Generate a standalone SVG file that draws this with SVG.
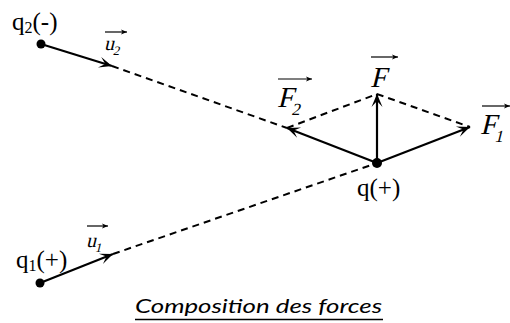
<svg xmlns="http://www.w3.org/2000/svg" width="510" height="323" viewBox="0 0 510 323">
  <defs>
    <marker id="head" viewBox="-14 -7 15 14" refX="0" refY="0" markerWidth="15" markerHeight="14" markerUnits="userSpaceOnUse" orient="auto">
      <path d="M0,0 L-13,-5.5 L-7,0 L-13,5.5 Z" fill="#000"/>
    </marker>
    <marker id="vhead" viewBox="-7 -3 8 6" refX="0" refY="0" markerWidth="8" markerHeight="6" markerUnits="userSpaceOnUse" orient="auto">
      <path d="M0,0 L-6,-2.5 L-4.5,0 L-6,2.5 Z" fill="#000"/>
    </marker>
  </defs>
  <style>
    .vec { stroke: #000; stroke-width: 2.2; fill: none; marker-end: url(#head); }
    .dash { stroke: #000; stroke-width: 2; fill: none; stroke-dasharray: 7 5; }
    .bar { stroke: #000; stroke-width: 1.2; fill: none; marker-end: url(#vhead); }
    .dot { fill: #000; }
    .lbl { font-family: "Liberation Serif", "Times New Roman", serif; font-size: 25px; fill: #000; }
    .vlab { font-family: "Liberation Serif", "Times New Roman", serif; font-style: normal; fill: #000; }
    .title { font-family: Lato, "Liberation Sans", Arial, sans-serif; font-style: italic; font-size: 19px; fill: #000; }
  </style>
  <rect width="510" height="323" fill="#fff"/>

  <g id="connectors">
    <line class="dash" x1="112" y1="66" x2="287" y2="128"/>
    <line class="dash" x1="113" y1="254" x2="377" y2="163"/>
    <polyline class="dash" points="287,128 377,94 470,127"/>
    <line class="vec" x1="41" y1="44" x2="112" y2="66"/>
    <line class="vec" x1="40" y1="283" x2="113" y2="254"/>
    <line class="vec" x1="377" y1="163" x2="287" y2="128"/>
    <line class="vec" x1="377" y1="163" x2="377" y2="94"/>
    <line class="vec" x1="377" y1="163" x2="470" y2="127"/>
  </g>

  <g id="q2">
    <circle class="dot" cx="41" cy="44" r="4.5"/>
    <text class="lbl" x="12" y="30">q<tspan font-size="16" dy="3">2</tspan><tspan dy="-3">(-)</tspan></text>
  </g>

  <g id="u2">
    <line class="bar" x1="105" y1="32" x2="127" y2="32"/>
    <text class="vlab" transform="translate(104,50) skewX(-14)" font-size="20">u<tspan font-size="13" dy="5">2</tspan></text>
  </g>

  <g id="q1">
    <circle class="dot" cx="40" cy="283" r="4.5"/>
    <text class="lbl" x="16" y="268">q<tspan font-size="16" dy="3">1</tspan><tspan dy="-3">(+)</tspan></text>
  </g>

  <g id="u1">
    <line class="bar" x1="87" y1="226" x2="108" y2="226"/>
    <text class="vlab" transform="translate(86,247) skewX(-14)" font-size="20">u<tspan font-size="13" dy="5">1</tspan></text>
  </g>

  <g id="q">
    <circle class="dot" cx="377" cy="163" r="5"/>
    <text class="lbl" x="357" y="196">q(+)</text>
  </g>

  <g id="F2">
    <line class="bar" x1="278" y1="79" x2="312" y2="79"/>
    <text class="vlab" transform="translate(277,107) skewX(-14)" font-size="29">F<tspan font-size="17" dy="8">2</tspan></text>
  </g>

  <g id="F">
    <line class="bar" x1="371" y1="57" x2="398" y2="57"/>
    <text class="vlab" transform="translate(370,87) skewX(-14)" font-size="29">F</text>
  </g>

  <g id="F1">
    <line class="bar" x1="482" y1="106" x2="510" y2="106"/>
    <text class="vlab" transform="translate(480,134) skewX(-14)" font-size="29">F<tspan font-size="17" dy="8">1</tspan></text>
  </g>

  <g id="caption">
    <text class="title" x="135" y="313" textLength="247" lengthAdjust="spacingAndGlyphs">Composition des forces</text>
    <line x1="135" y1="319.5" x2="383" y2="319.5" stroke="#000" stroke-width="1.5"/>
  </g>
</svg>
